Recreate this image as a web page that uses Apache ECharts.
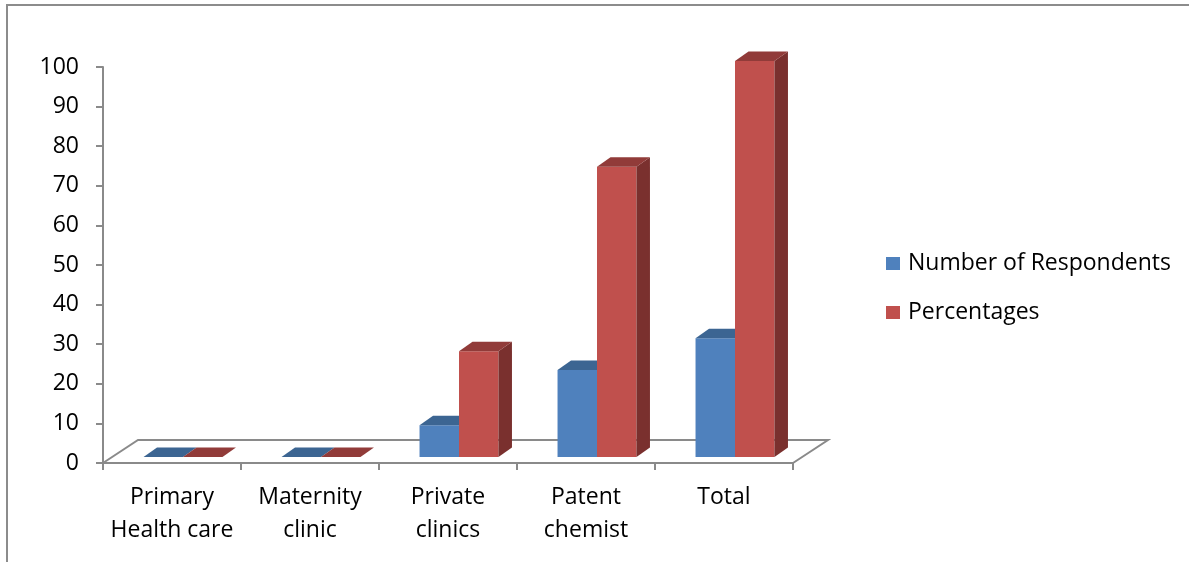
<!DOCTYPE html>
<html>
<head>
<meta charset="utf-8">
<script src="https://cdn.jsdelivr.net/npm/echarts@6/dist/echarts.min.js"></script>
<style>
  html, body { margin: 0; padding: 0; background: #fff; }
  #chart { width: 1189px; height: 562px; }
</style>
</head>
<body>
<div id="chart"></div>
<script>
// Where respondents sought care
const categories = ['Primary\nHealth care', 'Maternity\nclinic', 'Private\nclinics', 'Patent\nchemist', 'Total'];
const respondents = [0, 0, 8, 22, 30];
const percentages = [0, 0, 26.7, 73.3, 100];
const yTicks = { min: 0, max: 100, interval: 10 };

const FONT = '"Open Sans", "Noto Sans", sans-serif';
const AXIS_GREY = '#8a8a8a';

// pseudo-3D geometry (pixels)
const FLOOR_DX = 35, FLOOR_DY = -23;   // depth of the floor plate
const BAR_OX = 11, BAR_OY = -6;        // bar front face offset from floor front edge
const BAR_DX = 13.5, BAR_DY = -9.5;    // depth of each column
const BAR_FRAC = 0.286;                // column width as a share of the category band

const palettes = [
  { front: '#4F81BD', top: '#3C6592', side: '#375C88' },
  { front: '#C0504D', top: '#913B39', side: '#7A302E' }
];

function poly(points, fill) {
  return { type: 'polygon', shape: { points }, style: { fill: fill, stroke: null } };
}

function columnRenderer(seriesIdx) {
  return function (params, api) {
    const cat = api.value(0);
    const val = api.value(1);
    const base = api.coord([cat, 0]);
    const top = api.coord([cat, val]);
    const band = api.size([1, 0])[0];
    const w = band * BAR_FRAC;
    const x0 = base[0] + BAR_OX + (seriesIdx === 0 ? -w : 0);
    const x1 = x0 + w;
    const yb = base[1] + BAR_OY;
    const yt = top[1] + BAR_OY;
    const c = palettes[seriesIdx];
    const children = [];
    if (yb - yt > 0.01) {
      children.push(poly([[x0, yb], [x1, yb], [x1, yt], [x0, yt]], c.front));
      children.push(poly([[x1, yb], [x1 + BAR_DX, yb + BAR_DY], [x1 + BAR_DX, yt + BAR_DY], [x1, yt]], c.side));
    }
    children.push(poly([[x0, yt], [x1, yt], [x1 + BAR_DX, yt + BAR_DY], [x0 + BAR_DX, yt + BAR_DY]], c.top));
    return { type: 'group', children };
  };
}

// floor plate outline behind the columns
function floorRenderer(params, api) {
  const band = api.size([1, 0])[0];
  const left = api.coord([0, 0]);
  const right = api.coord([categories.length - 1, 0]);
  const xl = left[0] - band / 2, xr = right[0] + band / 2, y = left[1];
  const style = { stroke: AXIS_GREY, lineWidth: 2, fill: null };
  return {
    type: 'polyline',
    shape: { points: [[xl, y], [xl + FLOOR_DX, y + FLOOR_DY], [xr + FLOOR_DX, y + FLOOR_DY], [xr, y]] },
    style
  };
}

const chart = echarts.init(document.getElementById('chart'), null, { renderer: 'canvas' });

chart.setOption({
  backgroundColor: '#ffffff',
  animation: false,
  textStyle: { fontFamily: FONT },
  graphic: [{
    type: 'polyline',
    shape: { points: [[7, 600], [7, 5], [1200, 5]] },
    style: { stroke: '#8c8c8c', lineWidth: 2, fill: null },
    silent: true
  }],
  grid: { left: 103, right: 396, top: 67, bottom: 99, containLabel: false },
  legend: {
    orient: 'vertical',
    left: 886,
    top: 252,
    padding: 0,
    itemWidth: 14,
    itemHeight: 13,
    itemGap: 26,
    icon: 'rect',
    data: ['Number of Respondents', 'Percentages'],
    textStyle: { fontFamily: FONT, fontSize: 23, color: '#000', lineHeight: 23, padding: [0, 0, 0, 3] }
  },
  xAxis: {
    type: 'category',
    data: categories,
    boundaryGap: true,
    axisLine: { lineStyle: { color: AXIS_GREY, width: 2 } },
    axisTick: { show: true, length: 7, lineStyle: { color: AXIS_GREY, width: 2 } },
    axisLabel: { fontFamily: FONT, fontSize: 23, color: '#000', lineHeight: 33, margin: 18, interval: 0 },
    splitLine: { show: false }
  },
  yAxis: {
    type: 'value',
    min: yTicks.min,
    max: yTicks.max,
    interval: yTicks.interval,
    axisLine: { show: true, lineStyle: { color: AXIS_GREY, width: 2 } },
    axisTick: { show: true, length: 7, lineStyle: { color: AXIS_GREY, width: 2 } },
    axisLabel: { fontFamily: FONT, fontSize: 23, color: '#000', margin: 24 },
    splitLine: { show: false }
  },
  series: [
    {
      name: 'floor',
      type: 'custom',
      renderItem: floorRenderer,
      data: [[0, 0]],
      silent: true,
      z: 1
    },
    {
      name: 'Number of Respondents',
      type: 'custom',
      itemStyle: { color: palettes[0].front },
      renderItem: columnRenderer(0),
      encode: { x: 0, y: 1 },
      data: respondents.map((v, i) => [i, v]),
      z: 2
    },
    {
      name: 'Percentages',
      type: 'custom',
      itemStyle: { color: palettes[1].front },
      renderItem: columnRenderer(1),
      encode: { x: 0, y: 1 },
      data: percentages.map((v, i) => [i, v]),
      z: 3
    }
  ]
});
</script>
</body>
</html>
